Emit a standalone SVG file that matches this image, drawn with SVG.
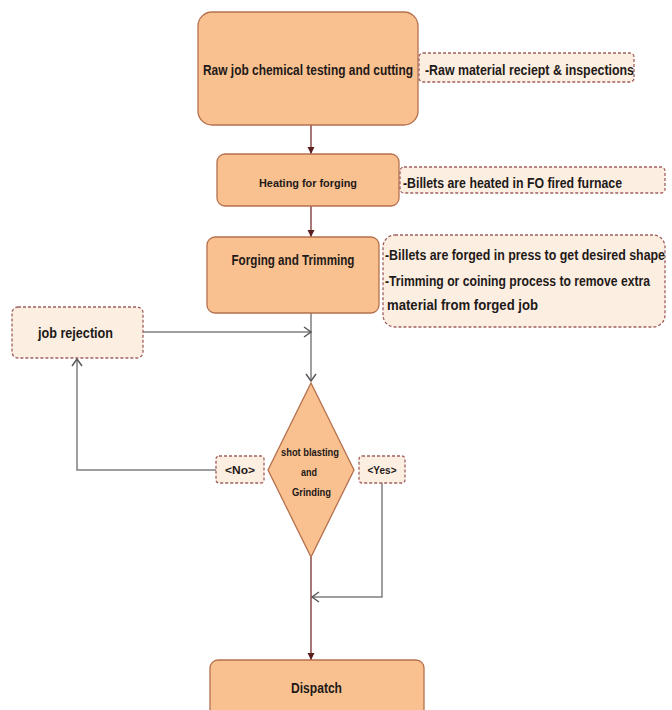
<svg xmlns="http://www.w3.org/2000/svg" width="672" height="710" viewBox="0 0 672 710">
<defs>
<style>
.box{fill:#FAC190;stroke:#B5704E;stroke-width:1.3}
.note{fill:#FDEEE2;stroke:#A0605E;stroke-width:1.3;stroke-dasharray:3 2}
.t{font-family:"Liberation Sans",Arial,sans-serif;font-weight:bold;fill:#1E1A18}
.red{stroke:#7A2E2E;stroke-width:1.3;fill:none}
.gray{stroke:#7F7F7F;stroke-width:1.5;fill:none}
</style>
<marker id="ah" markerWidth="8" markerHeight="8" refX="7" refY="4" orient="auto" markerUnits="userSpaceOnUse">
<path d="M0,0.5 L7,4 L0,7.5 Z" fill="#5A1F1F"/>
</marker>
<marker id="oh" markerWidth="10" markerHeight="12" refX="8" refY="6" orient="auto" markerUnits="userSpaceOnUse">
<path d="M1,1 L8,6 L1,11" fill="none" stroke="#555" stroke-width="1.4"/>
</marker>
</defs>
<rect width="672" height="710" fill="#FFFFFF"/>
<g id="connectors">
<line class="red" x1="311" y1="125" x2="311" y2="154" marker-end="url(#ah)"/>
<line class="red" x1="311" y1="206" x2="311" y2="237" marker-end="url(#ah)"/>
<line class="gray" x1="311" y1="313" x2="311" y2="381" marker-end="url(#oh)"/>
<line class="gray" x1="143" y1="332" x2="311" y2="332" marker-end="url(#oh)"/>
<polyline class="gray" points="216,470 77,470 77,359" marker-end="url(#oh)"/>
<polyline class="gray" points="382,483 382,597 312,597" marker-end="url(#oh)"/>
<line class="red" x1="311" y1="557" x2="311" y2="660" marker-end="url(#ah)"/>
</g>
<g id="raw-job">
<rect class="box" x="198" y="12" width="220" height="113" rx="14"/>
<text class="t" x="308" y="75" font-size="14" text-anchor="middle" textLength="210" lengthAdjust="spacingAndGlyphs">Raw job chemical testing and cutting</text>
</g>
<g id="note-raw">
<rect class="note" x="419" y="53" width="215" height="29" rx="4"/>
<text class="t" x="425" y="75" font-size="14" textLength="209" lengthAdjust="spacingAndGlyphs">-Raw material reciept  &amp; inspections</text>
</g>
<g id="heating">
<rect class="box" x="217" y="154" width="182" height="52" rx="8"/>
<text class="t" x="308" y="187" font-size="11" text-anchor="middle" textLength="98" lengthAdjust="spacingAndGlyphs">Heating  for forging</text>
</g>
<g id="note-heating">
<rect class="note" x="400" y="167" width="265" height="26" rx="4"/>
<text class="t" x="403" y="188" font-size="14" textLength="219" lengthAdjust="spacingAndGlyphs">-Billets are heated in FO fired furnace</text>
</g>
<g id="forging">
<rect class="box" x="207" y="237" width="172" height="76" rx="8"/>
<text class="t" x="293" y="265" font-size="14" text-anchor="middle" textLength="123" lengthAdjust="spacingAndGlyphs">Forging and Trimming</text>
</g>
<g id="note-forging">
<rect class="note" x="383" y="235" width="282" height="92" rx="12"/>
<text class="t" x="385" y="260" font-size="14" textLength="280" lengthAdjust="spacingAndGlyphs">-Billets are  forged in  press to get desired  shape</text>
<text class="t" x="385" y="286" font-size="14" textLength="265" lengthAdjust="spacingAndGlyphs">-Trimming or coining process to remove extra</text>
<text class="t" x="387" y="310" font-size="14" textLength="151" lengthAdjust="spacingAndGlyphs">material from forged job</text>
</g>
<g id="job-rejection">
<rect class="note" x="12" y="307" width="131" height="51" rx="6"/>
<text class="t" x="75.5" y="338" font-size="14" text-anchor="middle" textLength="75" lengthAdjust="spacingAndGlyphs">job rejection</text>
</g>
<g id="shot-blasting">
<polygon class="box" points="311,383 354,470 311,557 268,470"/>
<text class="t" x="310" y="456" font-size="11" text-anchor="middle" textLength="58" lengthAdjust="spacingAndGlyphs">shot blasting</text>
<text class="t" x="309" y="476" font-size="11" text-anchor="middle" textLength="16" lengthAdjust="spacingAndGlyphs">and</text>
<text class="t" x="311.5" y="496" font-size="11" text-anchor="middle" textLength="39" lengthAdjust="spacingAndGlyphs">Grinding</text>
</g>
<g id="no-label">
<rect class="note" x="216" y="456" width="48" height="27" rx="3"/>
<text class="t" x="240" y="474" font-size="11" text-anchor="middle" textLength="30" lengthAdjust="spacingAndGlyphs">&lt;No&gt;</text>
</g>
<g id="yes-label">
<rect class="note" x="359" y="456" width="46" height="27" rx="3"/>
<text class="t" x="382" y="474" font-size="11" text-anchor="middle" textLength="29" lengthAdjust="spacingAndGlyphs">&lt;Yes&gt;</text>
</g>
<g id="dispatch">
<rect class="box" x="210" y="660" width="214" height="60" rx="8"/>
<text class="t" x="316.5" y="693" font-size="14" text-anchor="middle" textLength="51" lengthAdjust="spacingAndGlyphs">Dispatch</text>
</g>
</svg>
